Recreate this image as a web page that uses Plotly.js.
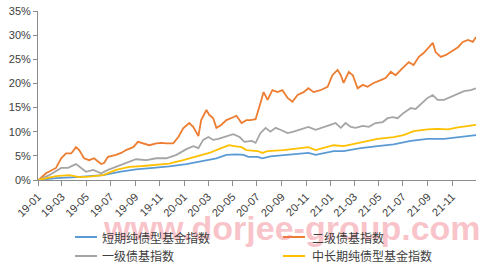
<!DOCTYPE html>
<html>
<head>
<meta charset="utf-8">
<script src="https://cdn.plot.ly/plotly-3.0.1.min.js"></script>
<style>html,body{margin:0;padding:0;background:#fff;}#chart{width:498px;height:274px;}</style>
</head>
<body>
<div id="chart"></div>
<script>
// Series names
const seriesNames = ["短期纯债型基金指数", "二级债基指数", "一级债基指数", "中长期纯债型基金指数"];

// 短期纯债型基金指数 (blue)
const shortDates = ["2019-01-02","2019-02-15","2019-04-06","2019-06-13","2019-07-23","2019-09-03","2019-10-16","2019-11-25","2020-01-07","2020-02-18","2020-03-22","2020-04-16","2020-05-11","2020-05-29","2020-06-10","2020-07-03","2020-07-15","2020-08-04","2020-10-01","2020-11-07","2020-11-25","2021-01-09","2021-02-03","2021-03-18","2021-04-29","2021-06-08","2021-07-21","2021-09-01","2021-10-12","2021-11-16","2021-12-31"];
const shortVals = [0,0.4,0.6,1.0,1.7,2.2,2.5,2.8,3.3,3.9,4.5,5.2,5.3,5.2,4.8,4.8,4.5,4.9,5.3,5.6,5.2,6.0,6.0,6.6,7.0,7.4,8.1,8.5,8.5,8.9,9.3];

// 二级债基指数 (orange)
const sec2Dates = ["2019-01-02","2019-01-21","2019-02-15","2019-02-28","2019-03-12","2019-03-25","2019-04-06","2019-04-14","2019-04-26","2019-05-09","2019-05-21","2019-06-08","2019-06-15","2019-06-25","2019-07-15","2019-07-28","2019-08-09","2019-08-27","2019-09-08","2019-09-21","2019-10-06","2019-10-24","2019-11-05","2019-11-18","2019-12-05","2019-12-18","2019-12-30","2020-01-14","2020-01-24","2020-02-06","2020-02-13","2020-02-26","2020-03-04","2020-03-14","2020-03-22","2020-04-03","2020-04-16","2020-05-03","2020-05-11","2020-05-24","2020-06-05","2020-06-15","2020-06-28","2020-07-10","2020-07-18","2020-07-28","2020-08-09","2020-08-22","2020-09-03","2020-09-16","2020-09-28","2020-10-11","2020-10-26","2020-11-07","2020-11-20","2020-12-07","2020-12-25","2021-01-06","2021-01-19","2021-01-27","2021-02-03","2021-02-16","2021-02-26","2021-03-10","2021-03-23","2021-04-04","2021-04-19","2021-05-07","2021-05-19","2021-06-01","2021-06-13","2021-07-01","2021-07-16","2021-07-28","2021-08-10","2021-08-22","2021-09-04","2021-09-14","2021-09-21","2021-10-04","2021-10-17","2021-10-29","2021-11-16","2021-11-28","2021-12-11","2021-12-23","2021-12-31"];
const sec2Vals = [0,1.4,2.5,4.5,5.5,5.5,6.8,6.2,4.5,4.1,4.5,3.3,3.5,4.8,5.2,5.6,6.2,6.8,7.9,7.6,7.2,7.6,7.7,7.6,7.6,8.9,10.7,11.8,11.0,9.1,12.4,14.5,13.5,12.8,10.8,11.4,12.4,13.0,13.3,11.8,12.4,12.4,12.6,15.9,18.2,16.6,18.6,18.2,18.6,17.0,16.2,17.6,18.2,19.0,18.2,18.6,19.3,21.7,22.8,21.7,20.1,22.4,21.7,19.0,19.7,19.3,20.1,20.7,21.1,22.4,21.7,23.2,24.4,23.8,25.5,26.3,27.5,28.4,26.5,25.5,25.9,26.5,27.5,28.6,29.0,28.6,29.6];

// 一级债基指数 (grey)
const sec1Dates = ["2019-01-02","2019-01-29","2019-02-28","2019-03-17","2019-04-06","2019-04-19","2019-05-01","2019-05-19","2019-06-08","2019-06-25","2019-07-15","2019-08-09","2019-09-03","2019-09-29","2019-10-24","2019-11-18","2019-12-13","2020-01-07","2020-01-24","2020-02-06","2020-02-18","2020-03-02","2020-03-14","2020-03-27","2020-04-11","2020-05-03","2020-05-19","2020-05-31","2020-06-18","2020-06-28","2020-07-10","2020-07-23","2020-08-04","2020-08-17","2020-08-29","2020-09-16","2020-10-01","2020-10-18","2020-11-07","2020-11-25","2020-12-12","2021-01-01","2021-01-14","2021-01-27","2021-02-08","2021-02-21","2021-03-05","2021-03-23","2021-04-07","2021-04-24","2021-05-12","2021-05-24","2021-06-06","2021-06-18","2021-07-03","2021-07-21","2021-08-02","2021-08-20","2021-09-01","2021-09-14","2021-09-26","2021-10-12","2021-10-29","2021-11-16","2021-12-01","2021-12-18","2021-12-31"];
const sec1Vals = [0,1.0,2.5,2.5,3.3,2.5,1.7,2.1,1.4,2.1,2.7,3.5,4.3,4.1,4.5,4.5,5.2,6.4,7.0,6.6,8.3,8.9,8.3,8.5,8.9,9.5,8.9,7.9,8.1,7.7,9.7,10.8,10.0,10.8,10.4,9.7,10.0,10.5,11.0,10.4,10.8,11.4,11.8,10.8,11.8,11.0,10.8,11.2,11.0,11.8,12.0,12.8,13.0,12.8,13.9,14.9,14.7,16.2,17.0,17.6,16.6,16.6,17.2,18.0,18.4,18.6,19.0];

// 中长期纯债型基金指数 (yellow)
const longDates = ["2019-01-02","2019-02-15","2019-03-20","2019-04-14","2019-05-09","2019-06-13","2019-07-15","2019-08-17","2019-09-21","2019-10-24","2019-11-25","2019-12-30","2020-02-01","2020-03-04","2020-04-03","2020-04-23","2020-05-06","2020-05-24","2020-06-05","2020-06-23","2020-07-03","2020-07-15","2020-07-28","2020-09-06","2020-10-18","2020-11-07","2020-11-25","2021-01-09","2021-02-03","2021-03-18","2021-04-29","2021-06-08","2021-07-03","2021-07-28","2021-09-01","2021-09-26","2021-10-22","2021-11-16","2021-12-31"];
const longVals = [0,0.8,1.0,0.6,0.7,1.0,2.1,2.7,2.9,3.1,3.4,4.1,4.8,5.6,6.6,7.2,7.0,6.8,6.2,6.0,6.0,5.6,6.0,6.2,6.6,6.8,6.2,7.2,7.0,7.7,8.5,8.9,9.3,10.1,10.5,10.6,10.5,10.9,11.4];

const yTickVals = [0,5,10,15,20,25,30,35];
const yTickText = ["0%","5%","10%","15%","20%","25%","30%","35%"];
const watermark = "www.dorjee-group.com";

const colors = ["#5B9BD5","#ED7D31","#A5A5A5","#FFC000"];
const xs = [shortDates, sec2Dates, sec1Dates, longDates];
const ys = [shortVals, sec2Vals, sec1Vals, longVals];

const traces = seriesNames.map((n,i)=>({
  type:"scatter", mode:"lines", name:n, x:xs[i], y:ys[i],
  line:{color:colors[i], width:1.8}, showlegend:false
}));

// Manual legend (2 columns x 2 rows), positioned in paper coordinates
const legCols = [[0.0845,0.1347,0.1416],[0.5594,0.6096,0.621]];
const legRows = [-0.3373,-0.4497];
const shapes = [];
const annotations = [];
annotations.push({
  text:watermark, xref:"paper", yref:"paper", x:0.579, y:-0.285,
  xanchor:"center", yanchor:"middle", showarrow:false,
  font:{family:"Liberation Sans, Arial, sans-serif", size:34, color:"rgba(240,110,125,0.42)", weight:"bold"}
});
seriesNames.forEach((n,i)=>{
  const c = legCols[i%2], r = legRows[Math.floor(i/2)];
  shapes.push({type:"line", xref:"paper", yref:"paper", x0:c[0], x1:c[1], y0:r, y1:r,
    line:{color:colors[i], width:2}});
  annotations.push({text:n, xref:"paper", yref:"paper", x:c[2], y:r, xanchor:"left", yanchor:"middle",
    showarrow:false, font:{family:"Noto Sans CJK SC, sans-serif", size:12, color:"#404040"}});
});

const layout = {
  width:498, height:274,
  margin:{l:38, r:22, t:11, b:94},
  paper_bgcolor:"#ffffff", plot_bgcolor:"#ffffff",
  font:{family:"Liberation Sans, Arial, sans-serif", size:11, color:"#404040"},
  showlegend:false,
  xaxis:{
    type:"date", range:["2019-01-01","2021-12-31"], automargin:false,
    tick0:"2019-01-01", dtick:"M2", tickformat:"%y-%m",
    tickangle:-45, ticks:"outside", ticklen:5, tickcolor:"#8c8c8c",
    showline:true, linecolor:"#8c8c8c", linewidth:1,
    showgrid:false, zeroline:false,
    tickfont:{size:11, color:"#404040"}
  },
  yaxis:{
    range:[0,35], tickvals:yTickVals, ticktext:yTickText, automargin:false,
    ticks:"outside", ticklen:4, tickcolor:"#8c8c8c",
    showline:true, linecolor:"#8c8c8c", linewidth:1,
    showgrid:false, zeroline:false,
    tickfont:{size:11, color:"#404040"}
  },
  shapes:shapes,
  annotations:annotations
};

Plotly.newPlot("chart", traces, layout, {staticPlot:true, displayModeBar:false});
</script>
</body>
</html>
